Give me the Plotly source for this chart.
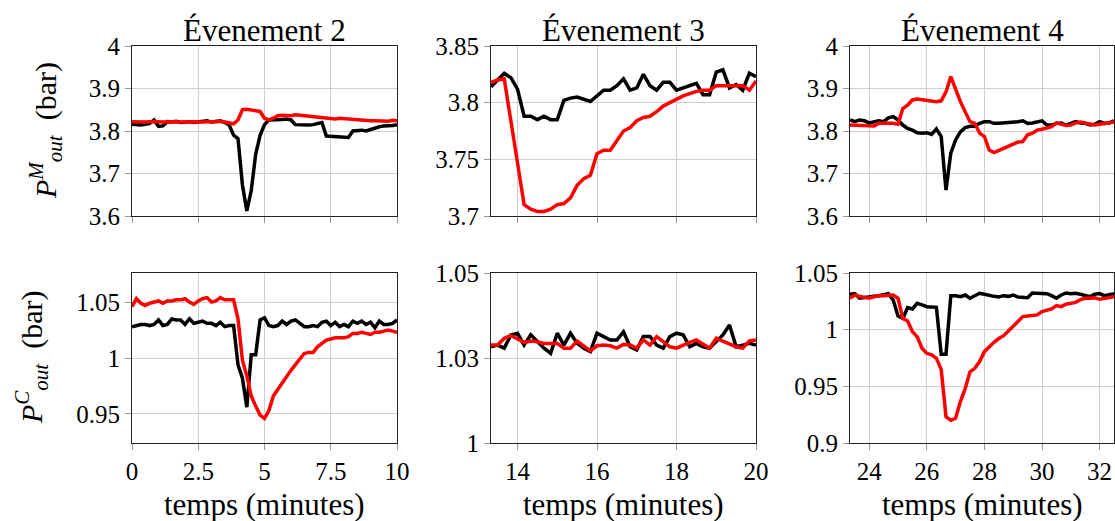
import numpy as np
import plotly.graph_objects as go

# ---------------- data ----------------
# sample times (minutes), 10 s sampling
t_ev2 = np.round(np.arange(0, 61) / 6.0, 4)
t_ev3 = np.round(40.0 / 3.0 + np.arange(0, 41) / 6.0, 4)
t_ev4 = np.round(70.0 / 3.0 + np.arange(0, 56) / 6.0, 4)

# Event 2 - P_out^M
ev2_M_black = [3.816, 3.815, 3.814, 3.816, 3.818, 3.826, 3.811, 3.812, 3.822, 3.821,
               3.823, 3.820, 3.821, 3.822, 3.820, 3.821, 3.823, 3.824, 3.821, 3.823,
               3.824, 3.820, 3.814, 3.790, 3.782, 3.673, 3.612, 3.660, 3.745, 3.790,
               3.815, 3.826, 3.826, 3.825, 3.827, 3.828, 3.826, 3.815, 3.814, 3.814,
               3.814, 3.815, 3.818, 3.820, 3.788, 3.787, 3.788, 3.785, 3.786, 3.785,
               3.800, 3.801, 3.802, 3.800, 3.804, 3.807, 3.810, 3.812, 3.812, 3.813,
               3.815]
ev2_M_red = [3.822, 3.821, 3.822, 3.821, 3.822, 3.823, 3.822, 3.821, 3.822, 3.823,
             3.822, 3.821, 3.822, 3.823, 3.822, 3.821, 3.822, 3.823, 3.822, 3.822,
             3.823, 3.821, 3.818, 3.817, 3.826, 3.850, 3.851, 3.849, 3.848, 3.846,
             3.830, 3.826, 3.830, 3.836, 3.837, 3.836, 3.836, 3.838, 3.837, 3.835,
             3.836, 3.835, 3.834, 3.833, 3.832, 3.829, 3.828, 3.830, 3.829, 3.827,
             3.827, 3.826, 3.826, 3.825, 3.824, 3.824, 3.823, 3.822, 3.823, 3.825,
             3.824]

# Event 2 - P_out^C
ev2_C_black = [1.028, 1.029, 1.030, 1.030, 1.029, 1.030, 1.034, 1.029, 1.030, 1.035,
               1.034, 1.034, 1.030, 1.035, 1.031, 1.032, 1.033, 1.031, 1.031, 1.029,
               1.032, 1.028, 1.029, 1.029, 0.994, 0.982, 0.956, 1.003, 1.003, 1.034,
               1.036, 1.029, 1.028, 1.029, 1.033, 1.030, 1.033, 1.034, 1.031, 1.028,
               1.028, 1.029, 1.028, 1.032, 1.033, 1.029, 1.032, 1.028, 1.030, 1.028,
               1.033, 1.031, 1.033, 1.030, 1.032, 1.027, 1.033, 1.030, 1.030, 1.031,
               1.034]
ev2_C_red = [1.046, 1.053, 1.049, 1.047, 1.049, 1.050, 1.051, 1.049, 1.051, 1.051,
             1.052, 1.052, 1.053, 1.050, 1.048, 1.051, 1.053, 1.054, 1.050, 1.051,
             1.054, 1.052, 1.052, 1.052, 1.035, 0.998, 0.984, 0.966, 0.957, 0.949,
             0.946, 0.953, 0.966, 0.972, 0.978, 0.984, 0.989, 0.994, 0.999, 1.004,
             1.005, 1.005, 1.010, 1.013, 1.016, 1.017, 1.018, 1.018, 1.018, 1.019,
             1.022, 1.022, 1.023, 1.022, 1.021, 1.023, 1.023, 1.024, 1.025, 1.024,
             1.023]

# Event 3 - P_out^M
ev3_M_black = [3.814, 3.820, 3.826, 3.822, 3.812, 3.788, 3.788, 3.785, 3.788, 3.785,
               3.785, 3.802, 3.804, 3.805, 3.803, 3.801, 3.806, 3.811, 3.811, 3.815,
               3.821, 3.811, 3.813, 3.825, 3.815, 3.811, 3.818, 3.818, 3.811, 3.813,
               3.815, 3.817, 3.807, 3.807, 3.827, 3.829, 3.813, 3.816, 3.811, 3.826,
               3.823]
ev3_M_red = [3.818, 3.820, 3.821, 3.783, 3.748, 3.710, 3.706, 3.704, 3.704, 3.706,
             3.710, 3.711, 3.716, 3.727, 3.733, 3.736, 3.755, 3.758, 3.758, 3.766,
             3.775, 3.778, 3.784, 3.787, 3.788, 3.792, 3.797, 3.800, 3.803, 3.806,
             3.808, 3.810, 3.811, 3.811, 3.815, 3.815, 3.815, 3.815, 3.815, 3.811,
             3.819]

# Event 3 - P_out^C
ev3_C_black = [1.0283, 1.0288, 1.0279, 1.0318, 1.0323, 1.0288, 1.0318, 1.0298, 1.0279, 1.0264,
               1.0323, 1.0288, 1.0323, 1.0293, 1.0279, 1.0269, 1.0323, 1.0313, 1.0303, 1.0303,
               1.0327, 1.0283, 1.0274, 1.0313, 1.0313, 1.0288, 1.0279, 1.0313, 1.0323, 1.0318,
               1.0283, 1.0293, 1.0283, 1.0279, 1.0298, 1.0318, 1.0347, 1.0283, 1.0288, 1.0293,
               1.0288]
ev3_C_red = [1.0288, 1.0288, 1.0308, 1.0316, 1.0306, 1.0296, 1.0300, 1.0298, 1.0293, 1.0293,
             1.0293, 1.0279, 1.0279, 1.0300, 1.0286, 1.0271, 1.0286, 1.0288, 1.0286, 1.0279,
             1.0290, 1.0288, 1.0279, 1.0303, 1.0288, 1.0313, 1.0298, 1.0283, 1.0279, 1.0288,
             1.0296, 1.0303, 1.0290, 1.0279, 1.0308, 1.0300, 1.0290, 1.0283, 1.0279, 1.0300,
             1.0303]

# Event 4 - P_out^M
ev4_M_black = [3.826, 3.822, 3.826, 3.824, 3.819, 3.822, 3.824, 3.822, 3.831, 3.834,
               3.826, 3.814, 3.806, 3.802, 3.796, 3.795, 3.796, 3.792, 3.805, 3.787,
               3.661, 3.748, 3.779, 3.798, 3.808, 3.811, 3.811, 3.818, 3.822, 3.822,
               3.818, 3.818, 3.819, 3.819, 3.819, 3.822, 3.824, 3.818, 3.819, 3.822,
               3.824, 3.814, 3.814, 3.818, 3.819, 3.814, 3.819, 3.822, 3.819, 3.818,
               3.814, 3.816, 3.822, 3.818, 3.819, 3.824]
ev4_M_red = [3.814, 3.814, 3.814, 3.813, 3.813, 3.812, 3.818, 3.818, 3.819, 3.818,
             3.816, 3.853, 3.861, 3.873, 3.875, 3.873, 3.873, 3.871, 3.869, 3.871,
             3.892, 3.928, 3.896, 3.869, 3.845, 3.822, 3.818, 3.795, 3.787, 3.755,
             3.749, 3.754, 3.757, 3.762, 3.767, 3.774, 3.775, 3.791, 3.795, 3.802,
             3.804, 3.806, 3.810, 3.819, 3.816, 3.813, 3.814, 3.819, 3.821, 3.818,
             3.816, 3.814, 3.816, 3.818, 3.819, 3.821]

# Event 4 - P_out^C
ev4_C_black = [1.0312, 1.0318, 1.0277, 1.0282, 1.0282, 1.0294, 1.0300, 1.0306, 1.0318, 1.0262,
               1.0120, 1.0100, 1.0194, 1.0183, 1.0233, 1.0218, 1.0203, 1.0200, 1.0197, 0.9783,
               0.9783, 1.0300, 1.0300, 1.0291, 1.0306, 1.0277, 1.0300, 1.0321, 1.0312, 1.0300,
               1.0294, 1.0288, 1.0300, 1.0294, 1.0306, 1.0288, 1.0288, 1.0282, 1.0324, 1.0321,
               1.0318, 1.0318, 1.0300, 1.0277, 1.0306, 1.0324, 1.0318, 1.0321, 1.0312, 1.0300,
               1.0291, 1.0312, 1.0318, 1.0300, 1.0306, 1.0318]
ev4_C_red = [1.0277, 1.0306, 1.0294, 1.0285, 1.0277, 1.0291, 1.0300, 1.0300, 1.0300, 1.0306,
             1.0277, 1.0100, 1.0077, 0.9983, 0.9938, 0.9836, 0.9791, 0.9777, 0.9747, 0.9650,
             0.9232, 0.9200, 0.9218, 0.9365, 0.9480, 0.9629, 0.9659, 0.9718, 0.9806, 0.9850,
             0.9888, 0.9923, 0.9947, 0.9988, 1.0027, 1.0071, 1.0115, 1.0121, 1.0124, 1.0130,
             1.0159, 1.0174, 1.0183, 1.0212, 1.0203, 1.0224, 1.0233, 1.0241, 1.0265, 1.0277,
             1.0277, 1.0282, 1.0268, 1.0277, 1.0282, 1.0291]

titles = ["Évenement 2", "Évenement 3", "Évenement 4"]
x_label = "temps (minutes)"
y_labels = ["<i>P</i><sup><i>M</i></sup><sub><i>out</i></sub>  (bar)",
            "<i>P</i><sup><i>C</i></sup><sub><i>out</i></sub>  (bar)"]

x_ranges = [[0, 10], [40.0 / 3.0, 20], [70.0 / 3.0, 32.5]]
x_tickvals = [[0, 2.5, 5, 7.5, 10], [14, 16, 18, 20], [24, 26, 28, 30, 32]]
x_ticktext = [["0", "2.5", "5", "7.5", "10"], ["14", "16", "18", "20"],
              ["24", "26", "28", "30", "32"]]

yM_ranges = [[3.6, 4.0], [3.7, 3.85], [3.6, 4.0]]
yM_tickvals = [[3.6, 3.7, 3.8, 3.9, 4.0], [3.7, 3.75, 3.8, 3.85], [3.6, 3.7, 3.8, 3.9, 4.0]]
yM_ticktext = [["3.6", "3.7", "3.8", "3.9", "4"], ["3.7", "3.75", "3.8", "3.85"],
               ["3.6", "3.7", "3.8", "3.9", "4"]]

yC_ranges = [[0.924, 1.076], [1.0, 1.05], [0.9, 1.05]]
yC_tickvals = [[0.95, 1.0, 1.05], [1.0, 1.025, 1.05], [0.9, 0.95, 1.0, 1.05]]
yC_ticktext = [["0.95", "1", "1.05"], ["1", "1.03", "1.05"], ["0.9", "0.95", "1", "1.05"]]

times = [t_ev2, t_ev3, t_ev4]
M_black = [ev2_M_black, ev3_M_black, ev4_M_black]
M_red = [ev2_M_red, ev3_M_red, ev4_M_red]
C_black = [ev2_C_black, ev3_C_black, ev4_C_black]
C_red = [ev2_C_red, ev3_C_red, ev4_C_red]

# ---------------- layout geometry ----------------
W, H = 1115, 521
col_px = [(132, 397), (491, 756), (850, 1114)]
row_px = [(46, 216), (273, 443)]  # top, bottom (pixels from top)

FONT = "Liberation Serif"
TICK_SIZE = 25
LABEL_SIZE = 31
LINE_W = 3.5

def xdom(c):
    return [col_px[c][0] / W, col_px[c][1] / W]

def ydom(r):
    return [1 - row_px[r][1] / H, 1 - row_px[r][0] / H]

fig = go.Figure()
layout = dict(
    template="none",
    width=W, height=H, autosize=False,
    margin=dict(l=0, r=0, t=0, b=0, pad=0),
    paper_bgcolor="white", plot_bgcolor="white",
    showlegend=False,
    font=dict(family=FONT, size=TICK_SIZE, color="black"),
)

axis_common = dict(
    automargin=False,
    showline=True, mirror=True, linecolor="#222", linewidth=1,
    showgrid=True, gridcolor="#cfcfcf", gridwidth=1,
    zeroline=False, ticks="outside", ticklen=6, tickcolor="#999", tickwidth=1,
    tickfont=dict(family=FONT, size=TICK_SIZE, color="black"),
)

for c in range(3):
    for r in range(2):
        idx = r * 3 + c + 1
        xname = "xaxis" if idx == 1 else f"xaxis{idx}"
        yname = "yaxis" if idx == 1 else f"yaxis{idx}"
        xref = "x" if idx == 1 else f"x{idx}"
        yref = "y" if idx == 1 else f"y{idx}"
        xa = dict(axis_common, domain=xdom(c), anchor=yref, range=x_ranges[c],
                  tickvals=x_tickvals[c], ticktext=x_ticktext[c],
                  showticklabels=(r == 1))
        if r == 0:
            ya = dict(axis_common, domain=ydom(r), anchor=xref, range=yM_ranges[c],
                      tickvals=yM_tickvals[c], ticktext=yM_ticktext[c])
            yb, yr_ = M_black[c], M_red[c]
        else:
            ya = dict(axis_common, domain=ydom(r), anchor=xref, range=yC_ranges[c],
                      tickvals=yC_tickvals[c], ticktext=yC_ticktext[c])
            yb, yr_ = C_black[c], C_red[c]
        layout[xname] = xa
        layout[yname] = ya
        fig.add_trace(go.Scatter(x=times[c], y=yb, mode="lines",
                                 line=dict(color="black", width=LINE_W),
                                 xaxis=xref, yaxis=yref, hoverinfo="skip"))
        fig.add_trace(go.Scatter(x=times[c], y=yr_, mode="lines",
                                 line=dict(color="#ff0000", width=LINE_W),
                                 xaxis=xref, yaxis=yref, hoverinfo="skip"))

annotations = []
for c in range(3):
    xc = (col_px[c][0] + col_px[c][1]) / 2 / W
    annotations.append(dict(text=titles[c], xref="paper", yref="paper",
                            x=xc, y=1 - 30 / H, xanchor="center", yanchor="middle",
                            showarrow=False, font=dict(family=FONT, size=LABEL_SIZE)))
    annotations.append(dict(text=x_label, xref="paper", yref="paper",
                            x=xc, y=1 - 504 / H, xanchor="center", yanchor="middle",
                            showarrow=False, font=dict(family=FONT, size=LABEL_SIZE)))
annotations.append(dict(text=y_labels[0], xref="paper", yref="paper",
                        x=45 / W, y=1 - 131 / H, xanchor="center", yanchor="middle",
                        textangle=-90, showarrow=False,
                        font=dict(family=FONT, size=LABEL_SIZE - 1)))
annotations.append(dict(text=y_labels[1], xref="paper", yref="paper",
                        x=31 / W, y=1 - 358 / H, xanchor="center", yanchor="middle",
                        textangle=-90, showarrow=False,
                        font=dict(family=FONT, size=LABEL_SIZE - 1)))
layout["annotations"] = annotations

fig.update_layout(**layout)
fig.write_html("out.html", config={"displayModeBar": False},
               post_script="document.body.style.margin='0';")
